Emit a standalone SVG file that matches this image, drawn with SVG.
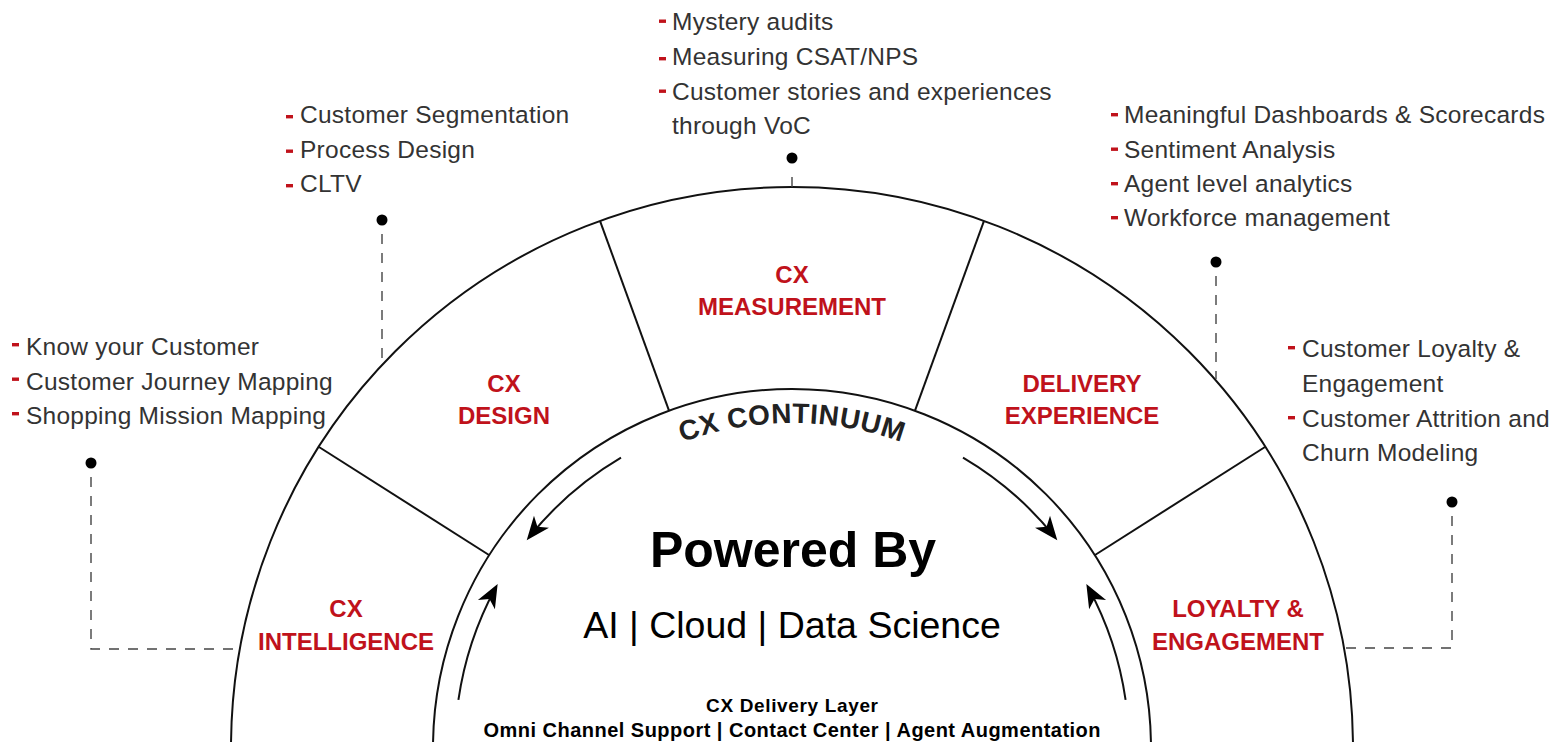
<svg xmlns="http://www.w3.org/2000/svg" width="1555" height="742" viewBox="0 0 1555 742">
  <style>
    text { font-family: "Liberation Sans", Arial, sans-serif; }
    .arc { fill: none; stroke: #111; stroke-width: 2; }
    .div { stroke: #111; stroke-width: 2; }
    .flow { fill: none; stroke: #111; stroke-width: 2; }
    .lbl { fill: #c0121b; font-size: 24px; font-weight: bold; text-anchor: middle; }
    .item { fill: #333; font-size: 24.5px; letter-spacing: 0.25px; }
    .dash { fill: #c0121b; }
    .lead { fill: none; stroke: #444; stroke-width: 1.4; stroke-dasharray: 10 9; }
    .dot { fill: #000; }
    .center { fill: #000; text-anchor: middle; }
  </style>
  <defs>
    <marker id="ah" markerUnits="userSpaceOnUse" markerWidth="30" markerHeight="30" viewBox="-22 -12 28 24" refX="0" refY="0" orient="auto">
      <path d="M4,0 L-18,-9 L-12,0 L-18,9 Z" fill="#000"/>
    </marker>
    <path id="contPath" d="M 467 748 A 325 325 0 0 1 1117 748"/>
  </defs>

  <g id="continuum-ring">
    <path class="arc" d="M 231 748 A 561 561 0 0 1 1353 748"/>
    <path class="arc" d="M 433 748 A 359 359 0 0 1 1151 748"/>
    <line class="div" x1="489" y1="555" x2="319" y2="447"/>
    <line class="div" x1="669" y1="410.6" x2="600" y2="220.8"/>
    <line class="div" x1="915" y1="410.6" x2="984" y2="220.8"/>
    <line class="div" x1="1095" y1="555" x2="1265" y2="447"/>
    <text font-size="28" font-weight="bold" fill="#222" letter-spacing="0.5"><textPath href="#contPath" startOffset="50%" text-anchor="middle">CX CONTINUUM</textPath></text>
  </g>

  <g id="flow-arrows">
    <path class="flow" d="M 621 457.6 A 337 337 0 0 0 529.4 536.8" marker-end="url(#ah)"/>
    <path class="flow" d="M 458.4 699.9 A 337 337 0 0 1 495.6 587.7" marker-end="url(#ah)"/>
    <path class="flow" d="M 963 457.6 A 337 337 0 0 1 1054.6 536.8" marker-end="url(#ah)"/>
    <path class="flow" d="M 1125.6 699.9 A 337 337 0 0 0 1088.4 587.7" marker-end="url(#ah)"/>
  </g>

  <g id="powered-by">
    <text class="center" x="793" y="567" font-size="50" font-weight="bold">Powered By</text>
    <text class="center" x="792" y="638" font-size="37.5">AI | Cloud | Data Science</text>
  </g>

  <g id="delivery-layer">
    <text class="center" x="792" y="712" font-size="19" font-weight="bold" fill="#222" textLength="172" lengthAdjust="spacing">CX Delivery Layer</text>
    <text class="center" x="792" y="737" font-size="20" font-weight="bold" fill="#222" textLength="617" lengthAdjust="spacing">Omni Channel Support | Contact Center | Agent Augmentation</text>
  </g>

  <g id="cx-intelligence">
    <text class="lbl" x="346" y="617">CX</text>
    <text class="lbl" x="346" y="650">INTELLIGENCE</text>
  </g>
  <g id="cx-design">
    <text class="lbl" x="504" y="392">CX</text>
    <text class="lbl" x="504" y="424">DESIGN</text>
  </g>
  <g id="cx-measurement">
    <text class="lbl" x="792" y="283">CX</text>
    <text class="lbl" x="792" y="315">MEASUREMENT</text>
  </g>
  <g id="delivery-experience">
    <text class="lbl" x="1082" y="392">DELIVERY</text>
    <text class="lbl" x="1082" y="424">EXPERIENCE</text>
  </g>
  <g id="loyalty-engagement">
    <text class="lbl" x="1238" y="617">LOYALTY &amp;</text>
    <text class="lbl" x="1238" y="650">ENGAGEMENT</text>
  </g>

  <g id="list-intelligence">
    <rect class="dash" x="12" y="343" width="7" height="3.4"/>
    <text class="item" x="26" y="355">Know your Customer</text>
    <rect class="dash" x="12" y="377.5" width="7" height="3.4"/>
    <text class="item" x="26" y="389.5">Customer Journey Mapping</text>
    <rect class="dash" x="12" y="412" width="7" height="3.4"/>
    <text class="item" x="26" y="424">Shopping Mission Mapping</text>
  </g>
  <g id="list-design">
    <rect class="dash" x="286" y="115" width="7" height="3.4"/>
    <text class="item" x="300" y="123">Customer Segmentation</text>
    <rect class="dash" x="286" y="149.5" width="7" height="3.4"/>
    <text class="item" x="300" y="157.5">Process Design</text>
    <rect class="dash" x="286" y="184" width="7" height="3.4"/>
    <text class="item" x="300" y="192">CLTV</text>
  </g>
  <g id="list-measurement">
    <rect class="dash" x="659" y="19.5" width="7" height="3.4"/>
    <text class="item" x="672" y="30">Mystery audits</text>
    <rect class="dash" x="659" y="57" width="7" height="3.4"/>
    <text class="item" x="672" y="65">Measuring CSAT/NPS</text>
    <rect class="dash" x="659" y="89.5" width="7" height="3.4"/>
    <text class="item" x="672" y="100">Customer stories and experiences</text>
    <text class="item" x="672" y="134">through VoC</text>
  </g>
  <g id="list-delivery">
    <rect class="dash" x="1111" y="113" width="7" height="3.4"/>
    <text class="item" x="1124" y="123">Meaningful Dashboards &amp; Scorecards</text>
    <rect class="dash" x="1111" y="147.5" width="7" height="3.4"/>
    <text class="item" x="1124" y="157.5">Sentiment Analysis</text>
    <rect class="dash" x="1111" y="182" width="7" height="3.4"/>
    <text class="item" x="1124" y="192">Agent level analytics</text>
    <rect class="dash" x="1111" y="216" width="7" height="3.4"/>
    <text class="item" x="1124" y="226">Workforce management</text>
  </g>
  <g id="list-loyalty">
    <rect class="dash" x="1288" y="346" width="7" height="3.4"/>
    <text class="item" x="1302" y="357">Customer Loyalty &amp;</text>
    <text class="item" x="1302" y="392">Engagement</text>
    <rect class="dash" x="1288" y="416" width="7" height="3.4"/>
    <text class="item" x="1302" y="427">Customer Attrition and</text>
    <text class="item" x="1302" y="461">Churn Modeling</text>
  </g>

  <g id="connectors">
    <circle class="dot" cx="91" cy="463" r="5.5"/>
    <path class="lead" d="M 91 477 V 649 H 241"/>
    <circle class="dot" cx="382" cy="220" r="5.5"/>
    <path class="lead" d="M 382 234 V 366"/>
    <circle class="dot" cx="792" cy="158" r="5.5"/>
    <path class="lead" d="M 792 177 V 187"/>
    <circle class="dot" cx="1216" cy="262" r="5.5"/>
    <path class="lead" d="M 1216 276 V 379"/>
    <circle class="dot" cx="1452" cy="502" r="5.5"/>
    <path class="lead" d="M 1452 516 V 648 H 1344"/>
  </g>
</svg>
